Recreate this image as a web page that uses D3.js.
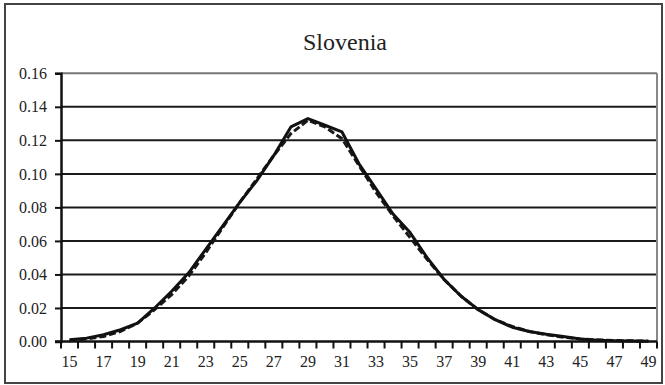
<!DOCTYPE html>
<html>
<head>
<meta charset="utf-8">
<script src="https://cdn.jsdelivr.net/npm/d3@7"></script>
<style>
  html, body { margin: 0; padding: 0; background: #fff; }
  svg { display: block; }
  text { font-family: "Liberation Serif", "Times New Roman", serif; fill: #222; }
</style>
</head>
<body>
<svg id="chart" width="665" height="385"></svg>
<script>
// ---- data ----
const title = "Slovenia";
const ages = d3.range(15, 50); // 15..49
const observed = [0.001, 0.002, 0.004, 0.007, 0.011, 0.020, 0.030, 0.041, 0.055, 0.069,
                  0.083, 0.096, 0.111, 0.128, 0.133, 0.129, 0.125, 0.106, 0.091, 0.076,
                  0.065, 0.050, 0.037, 0.027, 0.019, 0.013, 0.0085, 0.006, 0.0043, 0.003,
                  0.0015, 0.0008, 0.0005, 0.0003, 0.0002];
const fitted   = [0.0005, 0.0015, 0.003, 0.006, 0.011, 0.019, 0.028, 0.039, 0.053, 0.068,
                  0.083, 0.097, 0.111, 0.124, 0.132, 0.128, 0.121, 0.105, 0.089, 0.075,
                  0.062, 0.049, 0.037, 0.027, 0.019, 0.013, 0.009, 0.006, 0.004, 0.0025,
                  0.0015, 0.001, 0.0006, 0.0004, 0.0002];
const yTicks = [0, 0.02, 0.04, 0.06, 0.08, 0.10, 0.12, 0.14, 0.16];
const xLabels = ages.filter(a => (a - 15) % 2 === 0);

// ---- layout ----
const plot = { left: 61, right: 657, top: 73.3, bottom: 341.5 };

const svg = d3.select("#chart");

// outer frame
svg.append("rect")
  .attr("x", 5).attr("y", 4).attr("width", 657).attr("height", 379)
  .attr("fill", "none").attr("stroke", "#444").attr("stroke-width", 2);

const x = d3.scaleBand().domain(ages).range([plot.left, plot.right]).padding(0);
const y = d3.scaleLinear().domain([0, 0.16]).range([plot.bottom, plot.top]);

// gridlines
svg.append("g").selectAll("line")
  .data(yTicks.filter(v => v > 0))
  .join("line")
  .attr("x1", plot.left).attr("x2", plot.right)
  .attr("y1", d => y(d)).attr("y2", d => y(d))
  .attr("stroke", d => d === 0.16 ? "#777" : "#1a1a1a")
  .attr("stroke-width", 2);

// right border of plot area
svg.append("line")
  .attr("x1", plot.right).attr("x2", plot.right)
  .attr("y1", y(0.16)).attr("y2", y(0))
  .attr("stroke", "#888").attr("stroke-width", 2);

// y axis
const yAxis = svg.append("g")
  .attr("transform", `translate(${plot.left},0)`)
  .call(d3.axisLeft(y).tickValues(yTicks).tickFormat(d3.format(".2f")).tickSize(6).tickPadding(8));
yAxis.select(".domain").attr("stroke", "#111").attr("stroke-width", 2.5);
yAxis.selectAll(".tick line").attr("stroke", "#111").attr("stroke-width", 2);
yAxis.selectAll(".tick text")
  .attr("font-size", 16).attr("font-family", "Liberation Serif, serif").attr("fill", "#222");

// x axis: baseline
svg.append("line")
  .attr("x1", plot.left - 6).attr("x2", plot.right)
  .attr("y1", y(0)).attr("y2", y(0))
  .attr("stroke", "#111").attr("stroke-width", 2.5);

// x ticks at category boundaries
const bounds = ages.map(a => x(a)).concat([x(ages[ages.length - 1]) + x.bandwidth()]);
svg.append("g").selectAll("line")
  .data(bounds)
  .join("line")
  .attr("x1", d => d).attr("x2", d => d)
  .attr("y1", y(0)).attr("y2", y(0) + 7)
  .attr("stroke", "#111").attr("stroke-width", 2);

// x labels
svg.append("g").selectAll("text")
  .data(xLabels)
  .join("text")
  .attr("x", d => x(d) + x.bandwidth() / 2)
  .attr("y", 367)
  .attr("text-anchor", "middle")
  .attr("font-size", 16)
  .text(d => d);

// lines
const line = d3.line()
  .x((d, i) => x(ages[i]) + x.bandwidth() / 2)
  .y(d => y(d));

svg.append("path")
  .datum(fitted)
  .attr("d", line)
  .attr("fill", "none").attr("stroke", "#1a1a1a").attr("stroke-width", 3)
  .attr("stroke-dasharray", "7,3");

svg.append("path")
  .datum(observed)
  .attr("d", line)
  .attr("fill", "none").attr("stroke", "#111").attr("stroke-width", 3)
  .attr("stroke-linejoin", "round");

// title
svg.append("text")
  .attr("x", 345).attr("y", 50)
  .attr("text-anchor", "middle")
  .attr("font-size", 24)
  .text(title);
</script>
</body>
</html>
